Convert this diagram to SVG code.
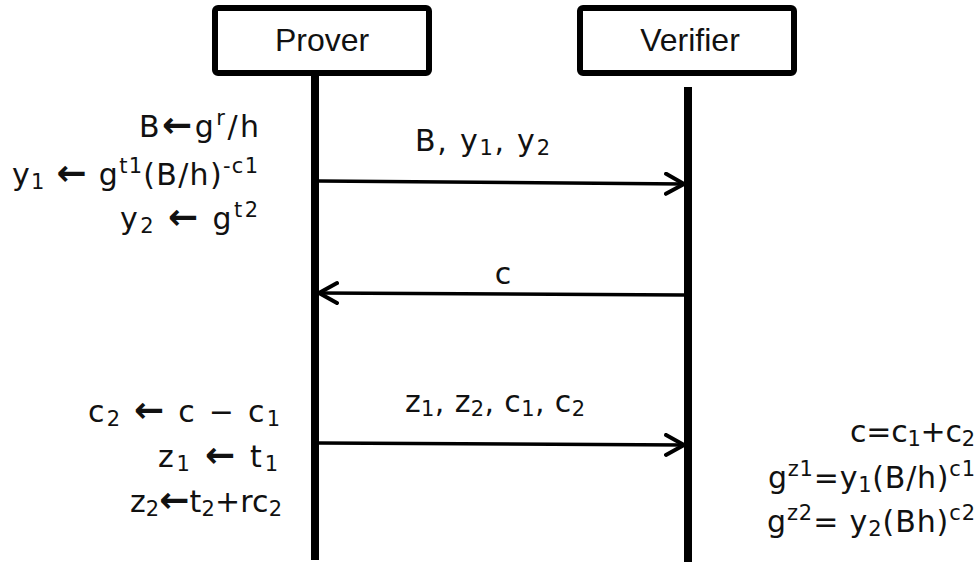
<svg xmlns="http://www.w3.org/2000/svg" width="980" height="563" viewBox="0 0 980 563">
<style>
.t{font-family:"DejaVu Sans","Liberation Sans",sans-serif;font-size:30px;fill:#111}
.h{font-family:"Liberation Sans",sans-serif;font-size:32px}
.m{text-anchor:middle}
.sm{font-size:21px}
.ar{font-weight:bold;font-size:36px}
.box{fill:#fff;stroke:#000;stroke-width:6}
.life{stroke:#000;stroke-width:8}
.msg{stroke:#000;stroke-width:3.5;fill:none}
</style>
<defs>
<marker id="ah" viewBox="0 0 22 24" refX="20" refY="12" markerWidth="22" markerHeight="24" markerUnits="userSpaceOnUse" orient="auto">
<path d="M2,2 L20,12 L2,22" fill="none" stroke="#000" stroke-width="4" stroke-linecap="round" stroke-linejoin="round"/>
</marker>
</defs>
<g id="prover">
<rect class="box" x="215" y="8" width="214" height="65" rx="3"/>
<text class="t h m" x="322" y="51">Prover</text>
<line class="life" x1="315" y1="76" x2="315" y2="560"/>
</g>
<g id="verifier">
<rect class="box" x="580" y="8" width="214" height="65" rx="3"/>
<text class="t h m" x="690" y="51">Verifier</text>
<line class="life" x1="688" y1="87" x2="688" y2="562"/>
</g>
<g id="connectors">
<line class="msg" x1="319" y1="181" x2="684" y2="184" marker-end="url(#ah)"/>
<line class="msg" x1="684" y1="295" x2="319" y2="293" marker-end="url(#ah)"/>
<line class="msg" x1="319" y1="443" x2="684" y2="445" marker-end="url(#ah)"/>
</g>
<g id="labels">
<text class="t" x="415" y="151" textLength="135" lengthAdjust="spacing">B,  y<tspan class="sm" dy="4">1</tspan><tspan dy="-4">,  y</tspan><tspan class="sm" dy="4">2</tspan></text>
<text class="t m" x="503" y="284">c</text>
<text class="t" x="405" y="412" textLength="180" lengthAdjust="spacing">z<tspan class="sm" dy="4">1</tspan><tspan dy="-4">,  z</tspan><tspan class="sm" dy="4">2</tspan><tspan dy="-4">,  c</tspan><tspan class="sm" dy="4">1</tspan><tspan dy="-4">,  c</tspan><tspan class="sm" dy="4">2</tspan></text>
</g>
<g id="prover-steps">
<text class="t" x="139" y="137" textLength="120" lengthAdjust="spacing">B<tspan class="ar">←</tspan>g<tspan class="sm" dy="-12">r</tspan><tspan dy="12">/h</tspan></text>
<text class="t" x="12" y="185" textLength="246" lengthAdjust="spacing">y<tspan class="sm" dy="4">1</tspan><tspan dy="-4"> </tspan><tspan class="ar">←</tspan> g<tspan class="sm" dy="-12">t1</tspan><tspan dy="12">(B/h)</tspan><tspan class="sm" dy="-12">-c1</tspan></text>
<text class="t" x="120" y="229" textLength="138" lengthAdjust="spacing">y<tspan class="sm" dy="4">2</tspan><tspan dy="-4"> </tspan><tspan class="ar">←</tspan> g<tspan class="sm" dy="-12">t2</tspan></text>
<text class="t" x="88" y="422" textLength="192" lengthAdjust="spacing">c<tspan class="sm" dy="4">2</tspan><tspan dy="-4"> </tspan><tspan class="ar">←</tspan> c − c<tspan class="sm" dy="4">1</tspan></text>
<text class="t" x="158" y="467" textLength="120" lengthAdjust="spacing">z<tspan class="sm" dy="4">1</tspan><tspan dy="-4"> </tspan><tspan class="ar">←</tspan> t<tspan class="sm" dy="4">1</tspan></text>
<text class="t" x="130" y="512" textLength="152" lengthAdjust="spacing">z<tspan class="sm" dy="4">2</tspan><tspan dy="-4" class="ar">←</tspan>t<tspan class="sm" dy="4">2</tspan><tspan dy="-4">+rc</tspan><tspan class="sm" dy="4">2</tspan></text>
</g>
<g id="verifier-checks">
<text class="t" x="850" y="442" textLength="125" lengthAdjust="spacing">c=c<tspan class="sm" dy="4">1</tspan><tspan dy="-4">+c</tspan><tspan class="sm" dy="4">2</tspan></text>
<text class="t" x="768" y="488" textLength="207" lengthAdjust="spacing">g<tspan class="sm" dy="-12">z1</tspan><tspan dy="12">=y</tspan><tspan class="sm" dy="4">1</tspan><tspan dy="-4">(B/h)</tspan><tspan class="sm" dy="-12">c1</tspan></text>
<text class="t" x="767" y="532" textLength="208" lengthAdjust="spacing">g<tspan class="sm" dy="-12">z2</tspan><tspan dy="12">=  y</tspan><tspan class="sm" dy="4">2</tspan><tspan dy="-4">(Bh)</tspan><tspan class="sm" dy="-12">c2</tspan></text>
</g>
</svg>
